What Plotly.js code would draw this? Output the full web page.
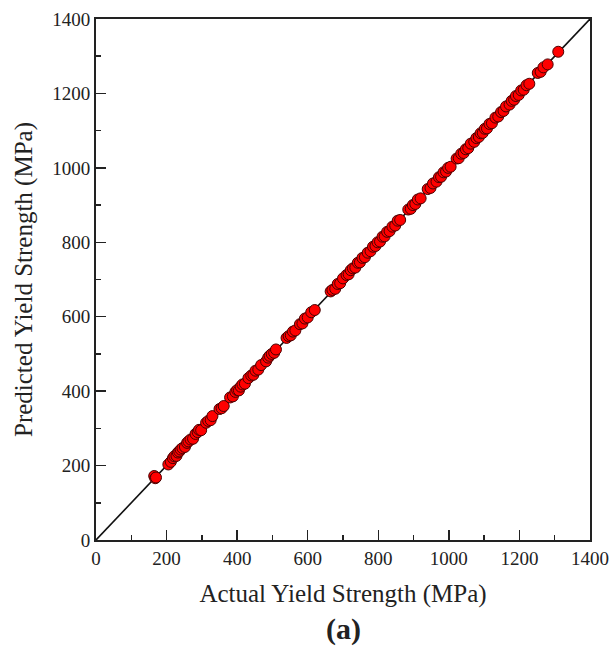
<!DOCTYPE html>
<html>
<head>
<meta charset="utf-8">
<script src="https://cdn.plot.ly/plotly-3.0.1.min.js"></script>
<style>html,body{margin:0;padding:0;background:#fff;}</style>
</head>
<body>
<div id="chart" style="width:610px;height:646px;"></div>
<script>
const actual = [165,168,170,205,212,218,222,228,232,236,240,245,252,258,262,268,275,282,288,292,298,312,318,325,330,350,356,362,380,388,395,400,405,410,415,422,432,440,446,452,460,468,482,488,492,498,505,510,540,546,552,558,565,578,585,592,600,610,620,665,670,678,685,692,700,710,716,722,728,735,742,748,755,762,770,778,785,792,798,805,812,818,825,832,840,848,855,862,885,892,898,905,912,920,940,948,955,965,972,978,985,992,998,1005,1022,1028,1035,1042,1048,1055,1062,1072,1078,1085,1090,1096,1102,1108,1115,1122,1132,1140,1148,1155,1162,1172,1178,1185,1190,1198,1205,1212,1220,1228,1252,1260,1268,1280,1310];
const predicted = [172,166,168,203,210,220,225,226,235,238,243,247,250,261,265,270,272,285,290,296,295,315,320,322,333,352,354,360,383,386,398,403,402,412,418,420,435,442,444,455,458,470,480,490,495,500,503,512,543,548,550,560,563,580,582,595,598,612,618,668,672,675,688,690,703,712,714,725,730,732,745,746,758,760,772,776,788,790,800,802,815,816,828,830,842,845,858,860,888,890,900,903,915,918,943,946,958,963,975,976,988,990,1000,1003,1025,1026,1038,1040,1050,1053,1065,1070,1080,1083,1093,1094,1105,1106,1118,1120,1135,1138,1150,1153,1165,1170,1180,1183,1193,1196,1208,1210,1222,1226,1255,1258,1270,1278,1312];
const idealX = [0, 1400];
const idealY = [0, 1400];
const tickVals = [0,200,400,600,800,1000,1200,1400];
const tickText = ["0","200","400","600","800","1000","1200","1400"];

const font = {family: "Liberation Serif, Times New Roman, serif", color: "#222"};

const traces = [
  {x: idealX, y: idealY, mode: "lines", line: {color: "#111", width: 1.6}, hoverinfo: "skip"},
  {x: actual, y: predicted, mode: "markers",
   marker: {color: "#ff0000", size: 11, line: {color: "#4a0000", width: 1}}}
];

function axis(title, standoff) {
  return {
    range: [0, 1400], tickvals: tickVals, ticktext: tickText,
    ticks: "inside", ticklen: 10, tickwidth: 1.5, tickcolor: "#222",
    minor: {dtick: 100, tick0: 0, ticks: "inside", ticklen: 5, tickwidth: 1.5, tickcolor: "#222"},
    showline: true, linewidth: 2, linecolor: "#222", mirror: true,
    showgrid: false, zeroline: false,
    ticklabeloverflow: "allow",
    tickfont: Object.assign({size: 19}, font),
    title: {text: title, font: Object.assign({size: 25}, font), standoff: standoff},
    fixedrange: true
  };
}

const layout = {
  width: 610, height: 646,
  margin: {l: 96, r: 20, t: 19, b: 106},
  paper_bgcolor: "#fff", plot_bgcolor: "#fff",
  showlegend: false,
  xaxis: axis("Actual Yield Strength (MPa)", 17),
  yaxis: axis("Predicted Yield Strength (MPa)", 12),
  annotations: [{
    text: "<b>(a)</b>", xref: "paper", yref: "paper", x: 0.5, y: -0.135,
    xanchor: "center", yanchor: "top", showarrow: false,
    font: Object.assign({size: 30}, font)
  }]
};

Plotly.newPlot("chart", traces, layout, {displayModeBar: false, staticPlot: true});
</script>
</body>
</html>
